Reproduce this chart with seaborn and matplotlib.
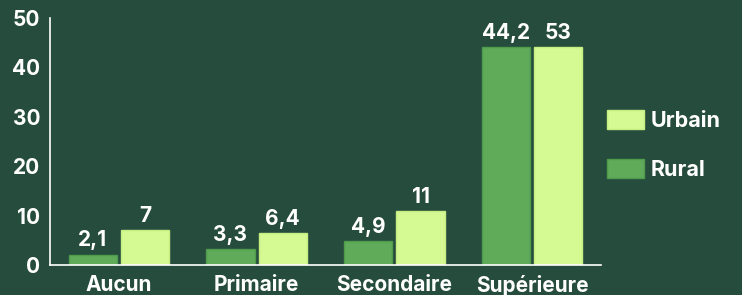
import matplotlib.pyplot as plt
import pandas as pd
import seaborn as sns
from matplotlib.patches import Patch

categories = ['Aucun', 'Primaire', 'Secondaire', 'Supérieure']
rural = [2.1, 3.3, 4.9, 44.2]
# bar heights as drawn in the picture (the last urbain bar is drawn at the rural height)
urbain = [7, 6.4, 11, 44.2]
rural_labels = ['2,1', '3,3', '4,9', '44,2']
urbain_labels = ['7', '6,4', '11', '53']

bg = '#264c3d'
rural_color = '#60ab5a'
urbain_color = '#d5f993'

df = pd.DataFrame({
    'niveau': categories * 2,
    'valeur': rural + urbain,
    'zone': ['Rural'] * 4 + ['Urbain'] * 4,
})

sns.set_style('white')
plt.rcParams['font.family'] = ['Inter', 'DejaVu Sans']
plt.rcParams['font.weight'] = 'bold'

fig = plt.figure(figsize=(7.42, 2.95), dpi=100, facecolor=bg)
ax = fig.add_axes([0.0674, 0.1017, 0.7426, 0.837])
ax.set_facecolor(bg)

sns.barplot(data=df, x='niveau', y='valeur', hue='zone', hue_order=['Rural', 'Urbain'],
            palette={'Rural': rural_color, 'Urbain': urbain_color}, saturation=1,
            width=0.76, gap=0.08, ax=ax, legend=False, linewidth=1)

for bars, col in zip(ax.containers, ['#4f9b4c', '#c6ee80']):
    for b in bars:
        b.set_edgecolor(col)
ax.bar_label(ax.containers[0], labels=rural_labels, padding=3, color='white',
             fontsize=15, fontweight='bold')
ax.bar_label(ax.containers[1], labels=urbain_labels, padding=3, color='white',
             fontsize=15, fontweight='bold')

ax.set_ylim(0, 50)
ax.set_xlim(-0.5, 3.5)
ax.set_yticks([0, 10, 20, 30, 40, 50])
ax.tick_params(axis='both', length=0, colors='white', labelsize=15)
ax.tick_params(axis='y', pad=7)
ax.tick_params(axis='x', pad=7)
for lab in ax.get_xticklabels() + ax.get_yticklabels():
    lab.set_fontweight('bold')
ax.set_xlabel('')
ax.set_ylabel('')
for s in ['top', 'right']:
    ax.spines[s].set_visible(False)
for s in ['left', 'bottom']:
    ax.spines[s].set_color('white')
    ax.spines[s].set_linewidth(1.2)

handles = [Patch(facecolor=urbain_color, edgecolor='#c6ee80', label='Urbain'),
           Patch(facecolor=rural_color, edgecolor='#4f9b4c', label='Rural')]
leg = fig.legend(handles=handles, loc='center left', bbox_to_anchor=(0.818, 0.51),
                 frameon=False, handlelength=1.7, handleheight=1.0, labelspacing=1.3,
                 handletextpad=0.35, borderpad=0, borderaxespad=0,
                 prop={'weight': 'bold', 'size': 15.5})
for t in leg.get_texts():
    t.set_color('white')

fig.savefig('out.png', dpi=100, facecolor=bg)
